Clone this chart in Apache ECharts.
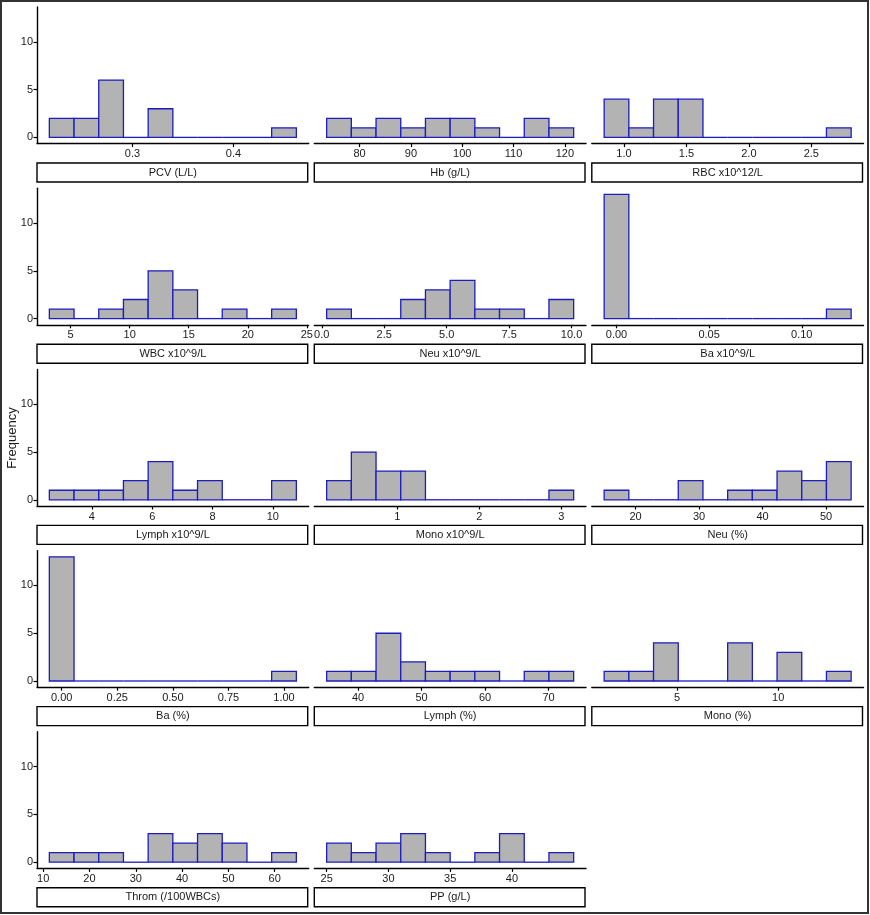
<!DOCTYPE html>
<html>
<head>
<meta charset="utf-8">
<script src="https://cdn.jsdelivr.net/npm/echarts@6/dist/echarts.min.js"></script>
<style>
  html, body { margin: 0; padding: 0; background: #fff; }
  #chart { width: 870px; height: 915px; }
</style>
</head>
<body>
<div id="chart"></div>
<script>
// Títulos de cada panel (en orden de facetas)
const panelTitles = ['PCV (L/L)', 'Hb (g/L)', 'RBC x10^12/L', 'WBC x10^9/L', 'Neu x10^9/L', 'Ba x10^9/L',
    'Lymph x10^9/L', 'Mono x10^9/L', 'Neu (%)', 'Ba (%)', 'Lymph (%)', 'Mono (%)', 'Throm (/100WBCs)', 'PP (g/L)'];

// Centro del primer y último bin de cada panel (10 bins por panel)
const firstBin = [0.23, 76, 0.94, 4.24, 0.69, 0, 3.0, 0.29, 17, 0, 37, 2, 14, 26];
const lastBin = [0.45, 119.3, 2.72, 23.07, 9.59, 0.12, 10.37, 3.0, 52, 1, 72, 13, 62, 44];

// Frecuencias por bin
const pcvCounts = [2, 2, 6, 0, 3, 0, 0, 0, 0, 1];
const hbCounts = [2, 1, 2, 1, 2, 2, 1, 0, 2, 1];
const rbcCounts = [4, 1, 4, 4, 0, 0, 0, 0, 0, 1];
const wbcCounts = [1, 0, 1, 2, 5, 3, 0, 1, 0, 1];
const neuAbsCounts = [1, 0, 0, 2, 3, 4, 1, 1, 0, 2];
const baAbsCounts = [13, 0, 0, 0, 0, 0, 0, 0, 0, 1];
const lymphAbsCounts = [1, 1, 1, 2, 4, 1, 2, 0, 0, 2];
const monoAbsCounts = [2, 5, 3, 3, 0, 0, 0, 0, 0, 1];
const neuPctCounts = [1, 0, 0, 2, 0, 1, 1, 3, 2, 4];
const baPctCounts = [13, 0, 0, 0, 0, 0, 0, 0, 0, 1];
const lymphPctCounts = [1, 1, 5, 2, 1, 1, 1, 0, 1, 1];
const monoPctCounts = [1, 1, 4, 0, 0, 4, 0, 3, 0, 1];
const thromCounts = [1, 1, 1, 0, 3, 2, 3, 2, 0, 1];
const ppCounts = [2, 1, 2, 3, 1, 0, 1, 3, 0, 1];
const allCounts = [pcvCounts, hbCounts, rbcCounts, wbcCounts, neuAbsCounts, baAbsCounts, lymphAbsCounts,
    monoAbsCounts, neuPctCounts, baPctCounts, lymphPctCounts, monoPctCounts, thromCounts, ppCounts];

// Marcas del eje x
const pcvTicks = [0.3, 0.4];
const hbTicks = [80, 90, 100, 110, 120];
const rbcTicks = [1.0, 1.5, 2.0, 2.5];
const wbcTicks = [5, 10, 15, 20, 25];
const neuAbsTicks = [0, 2.5, 5, 7.5, 10];
const baAbsTicks = [0, 0.05, 0.1];
const lymphAbsTicks = [4, 6, 8, 10];
const monoAbsTicks = [1, 2, 3];
const neuPctTicks = [20, 30, 40, 50];
const baPctTicks = [0, 0.25, 0.5, 0.75, 1];
const lymphPctTicks = [40, 50, 60, 70];
const monoPctTicks = [5, 10];
const thromTicks = [10, 20, 30, 40, 50, 60];
const ppTicks = [25, 30, 35, 40];
const allTicks = [pcvTicks, hbTicks, rbcTicks, wbcTicks, neuAbsTicks, baAbsTicks, lymphAbsTicks,
    monoAbsTicks, neuPctTicks, baPctTicks, lymphPctTicks, monoPctTicks, thromTicks, ppTicks];
const tickDecimals = [1, 0, 1, 0, 1, 2, 0, 0, 0, 2, 0, 0, 0, 0];

const yTicks = [0, 5, 10];

// Disposición
const colLeft = [37, 314.3, 591.8];
const rowTop = [7, 188.2, 369.4, 550.6, 731.8];
const panelW = 271.7;
const panelH = 136.6;
const barFill = '#b3b3b3';
const barEdge = '#1c1cbf';
const font = 'Liberation Sans, Arial, sans-serif';

function renderBar(params, api) {
    const p0 = api.coord([api.value(0), 0]);
    const p1 = api.coord([api.value(1), api.value(2)]);
    if (api.value(2) === 0) {
        return {
            type: 'line',
            shape: { x1: p0[0], y1: p0[1], x2: p1[0], y2: p0[1] },
            style: { stroke: barEdge, lineWidth: 1.3 }
        };
    }
    return {
        type: 'rect',
        shape: { x: p0[0], y: p1[1], width: p1[0] - p0[0], height: p0[1] - p1[1] },
        style: { fill: barFill, stroke: barEdge, lineWidth: 1.3 }
    };
}

const grids = [], xAxes = [], yAxes = [], series = [], graphics = [];

panelTitles.forEach((title, i) => {
    const col = i % 3;
    const row = Math.floor(i / 3);
    const left = colLeft[col];
    const top = rowTop[row];
    grids.push({ left: left, top: top, width: panelW, height: panelH });

    const w = (lastBin[i] - firstBin[i]) / 9;
    const lo = firstBin[i] - w / 2;
    const hi = lastBin[i] + w / 2;
    const pad = (hi - lo) * 0.05;

    xAxes.push({
        type: 'value', gridIndex: i, min: lo - pad, max: hi + pad,
        splitLine: { show: false },
        axisLine: { onZero: false, lineStyle: { color: '#000', width: 1.4 } },
        axisTick: { customValues: allTicks[i], length: 3.5, lineStyle: { color: '#000', width: 1.2 } },
        axisLabel: {
            customValues: allTicks[i], color: '#1a1a1a', fontSize: 11, margin: 5, fontFamily: font,
            formatter: v => Number(v).toFixed(tickDecimals[i])
        }
    });

    yAxes.push({
        type: 'value', gridIndex: i, min: -0.65, max: 13.65, show: col === 0,
        splitLine: { show: false },
        axisLine: { show: true, onZero: false, lineStyle: { color: '#000', width: 1.4 } },
        axisTick: { show: true, customValues: yTicks, length: 3.5, lineStyle: { color: '#000', width: 1.2 } },
        axisLabel: { customValues: yTicks, color: '#1a1a1a', fontSize: 11, margin: 4, fontFamily: font }
    });

    const data = allCounts[i].map((c, k) => [lo + k * w, lo + (k + 1) * w, c]);
    series.push({
        type: 'custom', xAxisIndex: i, yAxisIndex: i, data: data,
        encode: { x: [0, 1], y: 2 }, renderItem: renderBar, silent: true
    });

    // Caja del título debajo del panel
    graphics.push({
        type: 'rect',
        shape: { x: left, y: top + 156, width: panelW - 1, height: 19 },
        style: { fill: '#fff', stroke: '#000', lineWidth: 1.4 }
    });
    graphics.push({
        type: 'text',
        x: left + panelW / 2, y: top + 165.5,
        style: { text: title, fill: '#1a1a1a', fontSize: 11, fontFamily: font, align: 'center', verticalAlign: 'middle' }
    });
});

// Título del eje y
graphics.push({
    type: 'text', x: 12, y: 438, rotation: Math.PI / 2,
    style: { text: 'Frequency', fill: '#1a1a1a', fontSize: 13, fontFamily: font, align: 'center', verticalAlign: 'middle' }
});

// Marco exterior
graphics.push({
    type: 'rect',
    shape: { x: 1, y: 1, width: 867, height: 912 },
    style: { fill: 'none', stroke: '#333', lineWidth: 2 }
});

const chart = echarts.init(document.getElementById('chart'));
chart.setOption({
    animation: false,
    backgroundColor: '#fff',
    grid: grids,
    xAxis: xAxes,
    yAxis: yAxes,
    series: series,
    graphic: graphics
});
</script>
</body>
</html>
